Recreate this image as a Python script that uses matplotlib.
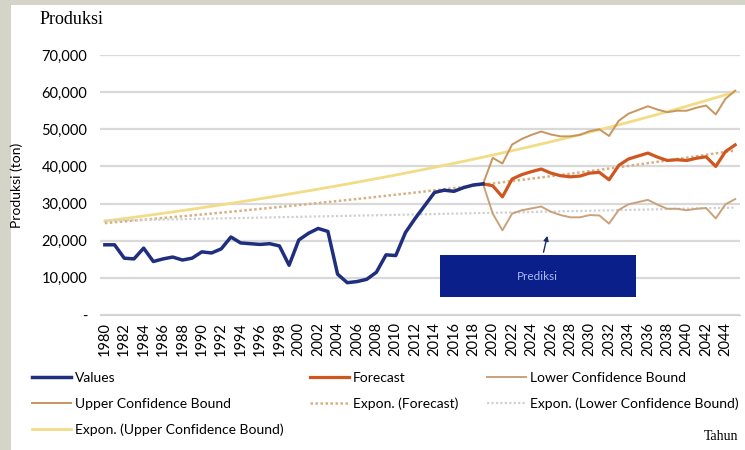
import numpy as np
import matplotlib
matplotlib.use("Agg")
import matplotlib.pyplot as plt
from matplotlib.patches import Rectangle

plt.rcParams['font.family'] = ['Lato', 'DejaVu Sans']

# produksi aktual 1980-2019 (ton)
years_hist = list(range(1980, 2020))
values = [18900, 18900, 15300, 15100, 18000, 14400, 15100, 15600, 14800, 15300,
          17000, 16700, 17800, 21000, 19400, 19200, 19000, 19200, 18600, 13400,
          20200, 22000, 23300, 22500, 11000, 8700, 9000, 9600, 11500, 16200,
          16000, 22200, 26000, 29500, 33000, 33600, 33300, 34300, 35000, 35300]

# prediksi 2019-2045 beserta batas kepercayaan
years_fc = list(range(2019, 2046))
forecast = [35300, 34800, 31800, 36600, 37800, 38600, 39300, 38200, 37500, 37200,
            37400, 38200, 38400, 36400, 40300, 42000, 42800, 43600, 42500, 41600,
            41800, 41600, 42200, 42600, 40000, 44000, 45800]
upper = [35300, 42300, 40800, 45900, 47400, 48500, 49400, 48600, 48100, 48100,
         48500, 49500, 50000, 48200, 52300, 54200, 55200, 56200, 55300, 54600,
         55000, 55000, 55800, 56400, 54000, 58200, 60400]
lower = [35300, 27300, 22800, 27300, 28200, 28700, 29200, 27800, 26900, 26300,
         26300, 26900, 26800, 24600, 28300, 29800, 30400, 31000, 29700, 28600,
         28600, 28200, 28600, 28800, 26000, 29800, 31200]

year_ticks = list(range(1980, 2045, 2))
y_ticks = list(range(0, 70001, 10000))


def expon_trend(xs, ys, x_all):
    # garis tren eksponensial (seperti trendline Excel)
    b, a = np.polyfit(xs, np.log(ys), 1)
    return np.exp(a + b * np.asarray(x_all))


years_all = np.arange(1980, 2046)

fig = plt.figure(figsize=(7.45, 4.5), dpi=100, facecolor='#d4d4c8')
fig.patches.append(Rectangle((11 / 745, 0), 1, 1 - 5 / 450, transform=fig.transFigure,
                             facecolor='white', edgecolor='none', zorder=-5))

ax = fig.add_axes([100 / 745, 135 / 450, 640 / 745, 260 / 450])
ax.set_facecolor('none')

# tren eksponensial
l_eu, = ax.plot(years_all, expon_trend(years_fc, upper, years_all), color='#f2dc86', lw=2, zorder=2)
l_ef, = ax.plot(years_all, expon_trend(years_fc, forecast, years_all), color='#d6b080', lw=1.8,
                ls=(0, (1, 1)), zorder=2)
l_el, = ax.plot(years_all, expon_trend(years_fc, lower, years_all), color='#d0d0d0', lw=1.6,
                ls=(0, (1, 1)), zorder=2)

l_up, = ax.plot(years_fc, upper, color='#c8955f', lw=1.4, zorder=3)
l_lo, = ax.plot(years_fc, lower, color='#c9a27c', lw=1.4, zorder=3)
l_fc, = ax.plot(years_fc, forecast, color='#d0561f', lw=2.3, zorder=4)
l_val, = ax.plot(years_hist, values, color='#1f2f7e', lw=2.5, zorder=5)

ax.set_xlim(1979.5, 2045.5)
ax.set_ylim(0, 70000)
ax.set_yticks(y_ticks)
ax.set_yticklabels(['-' if v == 0 else f'{v:,}' for v in y_ticks], fontsize=10.5)
ax.set_xticks(year_ticks)
ax.set_xticklabels([str(y) for y in year_ticks], rotation=90, fontsize=10.5)
ax.tick_params(axis='y', length=0, pad=9)
ax.tick_params(axis='x', length=0, pad=5)
ax.grid(axis='y', color='#d9d9d9', lw=1.6)
ax.set_axisbelow(True)
for s in ['top', 'right', 'left']:
    ax.spines[s].set_visible(False)
ax.spines['bottom'].set_color('#d0d0d0')
ax.spines['bottom'].set_linestyle((0, (1, 1)))

# kotak keterangan prediksi
ax.add_patch(Rectangle((0.531, 0.069), 0.3065, 0.162, transform=ax.transAxes,
                       facecolor='#0b1f8a', edgecolor='none', zorder=6))
ax.text(0.684, 0.15, 'Prediksi', transform=ax.transAxes, color='#a9b8f0', fontsize=8.5,
        ha='center', va='center', zorder=7)
ax.annotate('', xy=(0.70, 0.315), xytext=(0.692, 0.231), xycoords='axes fraction',
            arrowprops=dict(arrowstyle='-|>', color='#1a2a6c', lw=1, mutation_scale=7), zorder=7)

fig.text(40 / 745, 1 - 19 / 450, 'Produksi', family='Liberation Serif', fontsize=13, va='center')
fig.text(738 / 745, 1 - 436 / 450, 'Tahun', family='Liberation Serif', fontsize=10,
         ha='right', va='center')
fig.text(17 / 745, 1 - 185 / 450, 'Produksi (ton)', fontsize=10, rotation=90,
         ha='center', va='center')

leg_kw = dict(loc='upper left', frameon=False, fontsize=10, handlelength=2.8,
              handletextpad=0.3, labelspacing=0.98, borderpad=0, borderaxespad=0)
fig.legend([l_val, l_up, l_eu],
           ['Values', 'Upper Confidence Bound', 'Expon. (Upper Confidence Bound)'],
           bbox_to_anchor=(32 / 745, 1 - 372 / 450), **leg_kw)
fig.legend([l_fc, l_ef], ['Forecast', 'Expon. (Forecast)'],
           bbox_to_anchor=(310 / 745, 1 - 372 / 450), **leg_kw)
fig.legend([l_lo, l_el], ['Lower Confidence Bound', 'Expon. (Lower Confidence Bound)'],
           bbox_to_anchor=(487 / 745, 1 - 372 / 450), **leg_kw)

fig.savefig('out.png', dpi=100, facecolor=fig.get_facecolor())
